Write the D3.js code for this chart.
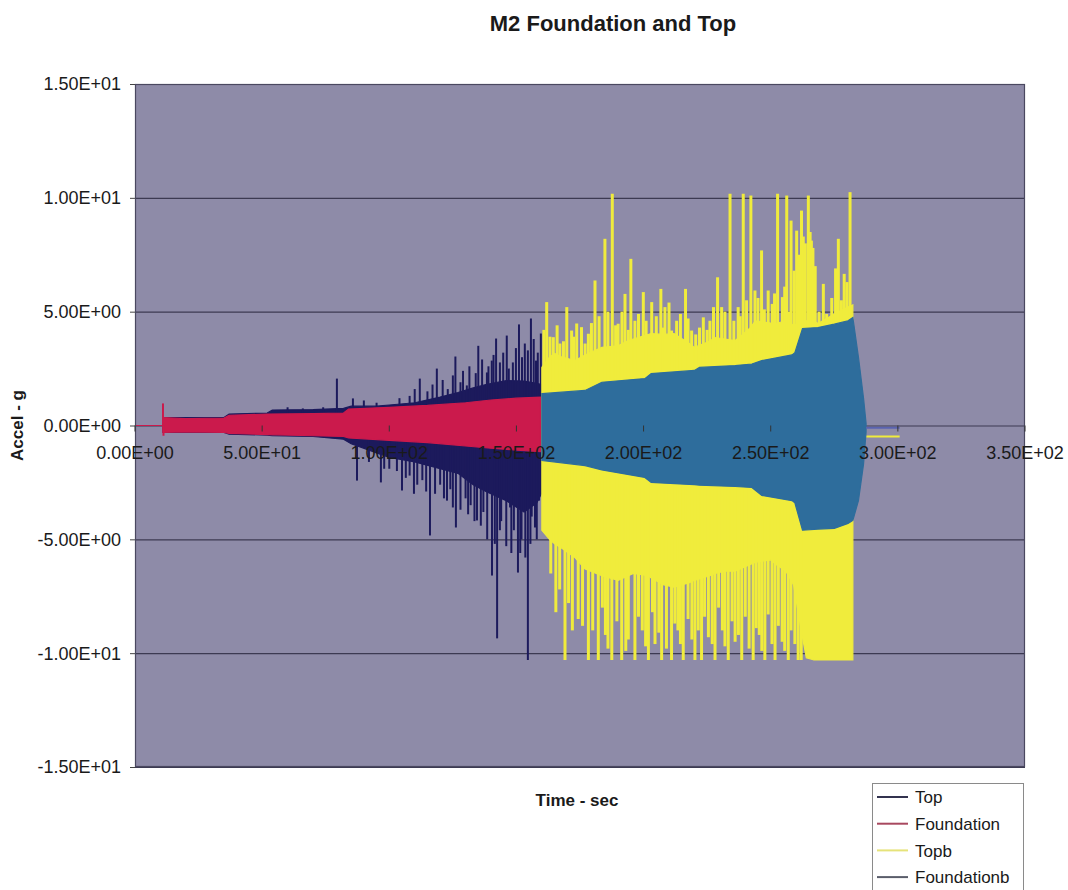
<!DOCTYPE html>
<html>
<head>
<meta charset="utf-8">
<script src="https://cdn.jsdelivr.net/npm/d3@7"></script>
<style>
  body { margin: 0; background: #ffffff; }
  svg { display: block; }
  text { font-family: "Liberation Sans", Arial, sans-serif; fill: #1a1a1a; }
</style>
</head>
<body>
<svg id="chart" width="1068" height="890"></svg>
<script>
// ---- data -------------------------------------------------------------
const chartTitle = "M2 Foundation and Top";
const xTitle = "Time - sec";
const yTitle = "Accel - g";
const xTicks = [0, 50, 100, 150, 200, 250, 300, 350];
const yTicks = [15, 10, 5, 0, -5, -10, -15];
const seriesNames = ["Top", "Foundation", "Topb", "Foundationb"];

// dense response band of each record: [time s, upper g, lower g]
const topEnvelope = [
  [11, 0.35, -0.3], [35, 0.35, -0.3], [37, 0.5, -0.38], [52, 0.55, -0.42],
  [54, 0.68, -0.45], [70, 0.7, -0.48], [82, 0.75, -0.6], [85, 0.85, -0.8],
  [95, 0.85, -1.2], [100, 0.9, -1.4], [110, 1.0, -1.6], [120, 1.25, -1.9],
  [127, 1.45, -2.1], [133, 1.65, -2.6], [138, 1.8, -2.9], [146, 1.97, -3.3],
  [153, 1.95, -3.8], [158, 1.85, -3.4], [159.8, 1.8, -3.0]
];
// isolated peaks: [time s, peak g]
const topSpikes = [
  [60, 0.8], [66, 0.75], [74, 0.8], [79.4, 2.06], [85.7, 1.19], [90, 1.1],
  [95, 1.0], [104, 1.2], [108, 1.3], [110, 1.6], [112, 2.06], [115, 1.5],
  [117, 1.8], [118.7, 2.5], [121, 2.0], [123, 1.6], [125, 2.2], [126, 3.03],
  [128, 1.9], [129, 2.4], [130.5, 1.76], [131.5, 2.6], [134, 2.3], [135, 3.5],
  [136.5, 2.9], [138.4, 2.33], [139, 2.6], [140.3, 2.85], [141, 3.1], [142, 3.82],
  [143.5, 2.77], [144.8, 3.2], [146.2, 3.95], [147, 2.5], [148.6, 2.77],
  [149.8, 3.4], [151, 4.44], [152.2, 3.0], [153.3, 3.6], [154.5, 3.3],
  [155.7, 4.7], [156.8, 3.8], [157.7, 2.85], [158.4, 3.2], [159.6, 4.04],
  [87.3, -2.42], [92, -1.6], [96.7, -2.5], [98, -1.9], [100, -1.9], [103, -2.0],
  [105, -2.85], [106.5, -2.3], [108, -2.2], [109.7, -3.0], [111, -2.6],
  [113, -2.4], [114.5, -2.9], [116, -4.83], [118, -3.0], [120, -2.6],
  [121.5, -3.2], [122.7, -3.3], [124, -2.8], [125, -3.6], [126.2, -4.48],
  [128, -3.7], [130, -3.2], [131, -3.9], [132, -3.5], [133.5, -4.2],
  [134.5, -4.17], [136, -4.4], [137, -3.8], [138.5, -5.0], [140.4, -6.59],
  [141.5, -5.2], [142.4, -9.35], [143.5, -4.6], [144, -4.2], [146, -5.3],
  [147.5, -3.6], [148, -5.6], [149, -4.6], [150.6, -6.46], [151.5, -5.6],
  [152, -5.0], [153.5, -5.8], [154.5, -10.3], [155.5, -5.2], [156, -4.0],
  [157.3, -4.48], [158, -5.0], [158.9, -3.3]
];

const foundationEnvelope = [
  [0, 0, 0], [10.9, 0, 0], [11, 0.35, -0.3], [20, 0.3, -0.28], [35, 0.33, -0.3],
  [37, 0.45, -0.35], [52, 0.5, -0.4], [70, 0.52, -0.45], [82, 0.55, -0.48],
  [84, 0.72, -0.55], [100, 0.8, -0.65], [115, 0.88, -0.75], [130, 1.0, -0.9],
  [140, 1.12, -1.0], [150, 1.2, -1.08], [159.5, 1.25, -1.15]
];
const foundationSpikes = [[11, 0.97], [11.2, -0.45]];

const topbEnvelope = [
  [160, 2.55, -4.6], [163, 3.0, -5.0], [165, 3.16, -5.2], [168, 3.0, -5.4],
  [173, 2.85, -5.8], [177, 3.1, -6.3], [183.6, 3.43, -6.6], [190, 3.5, -6.8],
  [194, 3.73, -6.6], [196, 3.8, -6.5], [202, 4.0, -6.6], [203, 4.04, -6.7],
  [208, 4.0, -7.0], [212, 4.04, -7.1], [218, 3.6, -6.9], [220, 3.43, -6.8],
  [226, 3.7, -6.6], [228, 3.86, -6.5], [232, 3.8, -6.4], [236, 3.73, -6.4],
  [238, 3.9, -6.3], [242, 4.3, -6.1], [244, 4.6, -6.0], [250, 4.5, -5.9],
  [252, 4.48, -6.1], [256, 4.6, -6.4], [259, 4.4, -7.0], [262, 4.5, -9.0],
  [264, 4.6, -10.2], [267, 4.6, -10.3], [268.6, 4.48, -10.3],
  [275, 4.9, -10.3], [280.4, 5.2, -10.3], [282.3, 5.3, -10.3]
];
const topbSpikes = [
  // upward peaks
  [160.8, 4.2], [161.9, 5.42], [163.2, 3.9], [164.5, 3.88], [166, 4.4],
  [167.1, 3.6], [168.5, 3.7], [169.8, 5.2], [171.7, 4.17], [172.5, 3.9],
  [173.7, 4.48], [175.6, 4.32], [177, 3.6], [178.3, 4.03], [179.5, 4.5],
  [180.9, 6.37], [182.5, 4.8], [184.8, 8.2], [186, 5.0], [187.7, 10.18],
  [189, 4.4], [190, 4.47], [191.5, 5.0], [192.7, 5.78], [194, 4.2], [195, 7.32],
  [196.6, 4.6], [198, 4.9], [199.9, 5.86], [201, 4.6], [203.2, 5.42], [205, 4.8],
  [206.8, 6.0], [207.6, 4.3], [208.4, 5.2], [210, 5.4], [211, 4.17], [213, 4.6],
  [214.5, 4.9], [216.5, 6.0], [217.5, 4.7], [218.9, 4.17], [220.5, 4.0],
  [222, 4.3], [223.5, 4.75], [225, 4.2], [226.1, 4.6], [227.5, 5.2],
  [229.1, 6.51], [230.7, 5.2], [232, 5.0], [234, 10.18], [235.5, 4.6],
  [237.2, 5.2], [238, 4.8], [239.2, 10.18], [240.5, 5.5], [242.2, 10.1],
  [243.8, 5.93], [245, 5.6], [246.4, 7.69], [247.5, 5.1], [249, 5.93],
  [250.6, 5.34], [251.5, 5.8], [252.7, 10.18], [254.6, 5.64], [255.5, 6.1],
  [256.3, 10.1], [257.2, 5.0], [258, 9.0], [259.2, 6.8], [260.2, 8.56],
  [261, 7.5], [262.1, 9.44], [262.8, 8.3], [263.6, 8.0], [264.8, 10.1],
  [265.5, 8.5], [266, 8.12], [266.6, 7.8], [267.5, 7.0], [269, 5.0],
  [270.7, 6.22], [272, 4.9], [274, 5.6], [275.5, 6.9], [276.6, 8.2],
  [277.8, 5.5], [278.9, 6.66], [280, 6.3], [281.2, 10.25],
  // downward peaks
  [163.5, -6.5], [165.5, -8.2], [167, -7.2], [169.1, -10.3], [170.5, -7.8],
  [172, -9.0], [174.3, -8.5], [176, -8.8], [178.3, -10.3], [180, -9.0],
  [182.2, -10.3], [183.8, -8.0], [185, -9.2], [186, -9.8], [187.5, -10.3],
  [189.5, -8.6], [191.4, -10.3], [193, -9.9], [194, -9.4], [196.6, -10.3],
  [198, -8.4], [199.5, -9.0], [200.8, -9.7], [201.9, -10.3], [203.5, -8.2],
  [204.5, -9.6], [206, -9.1], [207.1, -10.3], [209, -9.8], [211, -10.3],
  [212.3, -8.7], [213.5, -9.0], [214.5, -9.6], [215.6, -10.3], [217.5, -8.5],
  [219, -9.4], [220.2, -10.3], [221.5, -9.0], [222.8, -10.3], [224, -8.4],
  [225.5, -9.3], [227, -9.6], [228.1, -10.3], [229.5, -8.0], [231, -9.0],
  [232, -9.7], [233.3, -10.3], [234.8, -8.6], [236, -9.5], [237.3, -9.2],
  [238.6, -10.3], [240, -8.4], [241.5, -9.8], [243.1, -10.3], [244.3, -8.9],
  [245.5, -9.2], [246.5, -9.9], [247.7, -10.3], [249, -8.3], [250.5, -9.6],
  [251.7, -10.3], [253, -8.8], [254.5, -9.5], [255.5, -9.9], [256.9, -10.3],
  [258, -9.0], [259.5, -9.6], [260.8, -10.3], [262, -10.3]
];
const topbTail = [[287.5, -0.48], [300.7, -0.48]];

const foundationbEnvelope = [
  [160, 1.4, -1.54], [177, 1.54, -1.76], [183.6, 1.9, -1.95], [200.5, 2.06, -2.28],
  [203, 2.28, -2.5], [220, 2.42, -2.6], [222, 2.55, -2.62], [236, 2.63, -2.68],
  [242.6, 2.7, -2.72], [246.5, 2.85, -3.07], [258.4, 3.1, -3.3], [259.5, 3.2, -3.4],
  [262.5, 4.26, -4.6], [268.6, 4.3, -4.55], [275, 4.45, -4.52], [280.4, 4.6, -4.3],
  [282.3, 4.74, -4.17], [284.5, 3.0, -3.3], [286.5, 1.2, -1.7], [287.5, 0.1, -0.3]
];
const foundationbTail = [[287.5, -0.1], [300.7, -0.1]];

// ---- layout -----------------------------------------------------------
const colors = {
  Top: "#1c1a5c",
  Foundation: "#cb1a4c",
  Topb: "#f0ec3c",
  Foundationb: "#2e6d9c"
};
const legendColors = ["#33334f", "#a8485f", "#e6e37a", "#5a5d6a"];

const svg = d3.select("#chart");
const plot = { left: 135, right: 1025, top: 84, bottom: 767 };

const x = d3.scaleLinear().domain([0, 350]).range([plot.left, plot.right]);
const y = d3.scaleLinear().domain([-15, 15]).range([plot.bottom, plot.top]);

const sci = v => {
  const [m, e] = v.toExponential(2).toUpperCase().split("E");
  const sign = e[0] === "-" ? "-" : "+";
  const digits = e.replace(/[+-]/, "").padStart(2, "0");
  return `${m}E${sign}${digits}`;
};

// title
svg.append("text")
  .attr("x", 613).attr("y", 31)
  .attr("text-anchor", "middle")
  .style("font-size", "22px").style("font-weight", "bold")
  .text(chartTitle);

// plot background
svg.append("rect")
  .attr("x", plot.left).attr("y", plot.top)
  .attr("width", plot.right - plot.left).attr("height", plot.bottom - plot.top)
  .attr("fill", "#8e8ba8");

// horizontal gridlines
svg.append("g").selectAll("line").data(yTicks).join("line")
  .attr("x1", plot.left).attr("x2", plot.right)
  .attr("y1", d => y(d) + 0.5).attr("y2", d => y(d) + 0.5)
  .attr("stroke", "#3c3a52").attr("stroke-width", 1.2);

// clip for the traces
svg.append("clipPath").attr("id", "plotClip").append("rect")
  .attr("x", plot.left).attr("y", plot.top)
  .attr("width", plot.right - plot.left).attr("height", plot.bottom - plot.top);
const traces = svg.append("g").attr("clip-path", "url(#plotClip)");

const band = d3.area()
  .x(d => x(d[0])).y0(d => y(d[2])).y1(d => y(d[1]));
const trace = d3.line().x(d => x(d[0])).y(d => y(d[1]));

function drawBand(data, color) {
  traces.append("path").datum(data)
    .attr("d", band)
    .attr("fill", color).attr("stroke", color).attr("stroke-width", 1.2);
}
function drawSpikes(data, color, width) {
  traces.append("g").selectAll("line").data(data).join("line")
    .attr("x1", d => x(d[0])).attr("x2", d => x(d[0]))
    .attr("y1", y(0)).attr("y2", d => y(d[1]))
    .attr("stroke", color).attr("stroke-width", width);
}
function drawTrace(data, color) {
  traces.append("path").datum(data)
    .attr("d", trace).attr("fill", "none")
    .attr("stroke", color).attr("stroke-width", 2);
}

// series in legend order (later ones overlay earlier ones)
drawBand(topEnvelope, colors.Top);
drawSpikes(topSpikes, colors.Top, 2);
drawBand(foundationEnvelope, colors.Foundation);
drawSpikes(foundationSpikes, colors.Foundation, 2);
drawBand(topbEnvelope, colors.Topb);
drawSpikes(topbSpikes, colors.Topb, 3);
drawTrace(topbTail, colors.Topb);
drawBand(foundationbEnvelope, colors.Foundationb);
drawTrace(foundationbTail, "#5a63b0");

// plot border
svg.append("rect")
  .attr("x", plot.left + 0.5).attr("y", plot.top + 0.5)
  .attr("width", plot.right - plot.left - 1).attr("height", plot.bottom - plot.top - 1)
  .attr("fill", "none").attr("stroke", "#4a4860").attr("stroke-width", 1.2);

// y axis ticks and labels
const yAxis = svg.append("g");
yAxis.selectAll("line").data(yTicks).join("line")
  .attr("x1", plot.left - 5).attr("x2", plot.left)
  .attr("y1", d => y(d) + 0.5).attr("y2", d => y(d) + 0.5)
  .attr("stroke", "#444");
yAxis.selectAll("text").data(yTicks).join("text")
  .attr("x", 121).attr("y", d => y(d))
  .attr("dy", "0.36em").attr("text-anchor", "end")
  .style("font-size", "18px")
  .text(sci);

// x axis labels along the zero line
const xAxis = svg.append("g");
xAxis.selectAll("line").data(xTicks).join("line")
  .attr("x1", d => x(d)).attr("x2", d => x(d))
  .attr("y1", y(0)).attr("y2", y(0) + 6)
  .attr("stroke", "#333");
xAxis.selectAll("text").data(xTicks).join("text")
  .attr("x", d => x(d)).attr("y", 459)
  .attr("text-anchor", "middle")
  .style("font-size", "18px")
  .text(sci);

// axis titles
svg.append("text")
  .attr("transform", `translate(23, ${y(0)}) rotate(-90)`)
  .attr("text-anchor", "middle")
  .style("font-size", "17px").style("font-weight", "bold")
  .text(yTitle);
svg.append("text")
  .attr("x", 577).attr("y", 806)
  .attr("text-anchor", "middle")
  .style("font-size", "17px").style("font-weight", "bold")
  .text(xTitle);

// legend
const legend = svg.append("g");
legend.append("rect")
  .attr("x", 872.5).attr("y", 783.5).attr("width", 151).attr("height", 120)
  .attr("fill", "#ffffff").attr("stroke", "#8a8a8a");
const rows = legend.selectAll("g").data(seriesNames).join("g")
  .attr("transform", (d, i) => `translate(0, ${797 + i * 26.7})`);
rows.append("line")
  .attr("x1", 877).attr("x2", 908).attr("y1", 0).attr("y2", 0)
  .attr("stroke", (d, i) => legendColors[i]).attr("stroke-width", 2);
rows.append("text")
  .attr("x", 915).attr("y", 0).attr("dy", "0.36em")
  .style("font-size", "17px")
  .text(d => d);
</script>
</body>
</html>
